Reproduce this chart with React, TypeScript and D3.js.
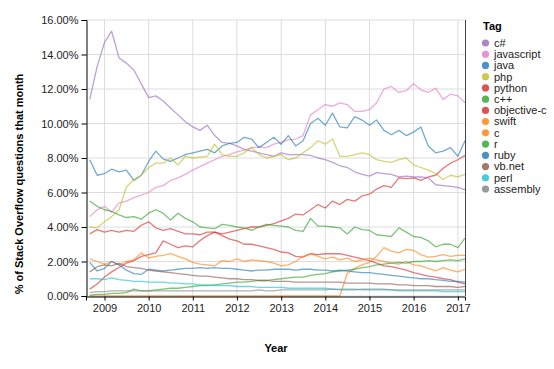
import React, { useEffect, useRef } from "react";
import * as d3 from "d3";

// sampled every two months, Sep 2008 .. Mar 2017
const months = [
  "2008-09", "2008-11",
  "2009-01", "2009-03", "2009-05", "2009-07", "2009-09", "2009-11",
  "2010-01", "2010-03", "2010-05", "2010-07", "2010-09", "2010-11",
  "2011-01", "2011-03", "2011-05", "2011-07", "2011-09", "2011-11",
  "2012-01", "2012-03", "2012-05", "2012-07", "2012-09", "2012-11",
  "2013-01", "2013-03", "2013-05", "2013-07", "2013-09", "2013-11",
  "2014-01", "2014-03", "2014-05", "2014-07", "2014-09", "2014-11",
  "2015-01", "2015-03", "2015-05", "2015-07", "2015-09", "2015-11",
  "2016-01", "2016-03", "2016-05", "2016-07", "2016-09", "2016-11",
  "2017-01", "2017-03"
];

const tags = ["c#", "javascript", "java", "php", "python", "c++", "objective-c", "swift", "c", "r", "ruby", "vb.net", "perl", "assembly"];
const tagColors = ["#9467bd", "#e377c2", "#1f77b4", "#bcbd22", "#d62728", "#2ca02c", "#d62728", "#ff7f0e", "#ff7f0e", "#2ca02c", "#1f77b4", "#8c564b", "#17becf", "#7f7f7f"];

const csharp = [11.4, 13.3, 14.7, 15.35, 13.8, 13.5, 13.1, 12.3,
  11.5, 11.6, 11.3, 10.9, 10.5, 10.1,
  9.8, 9.6, 9.9, 9.3, 8.9, 8.85,
  8.7, 8.5, 8.4, 8.3, 8.2, 8.1,
  8.3, 8.2, 8.2, 8.2, 8.15, 8.0,
  7.9, 7.75, 7.55, 7.45, 7.2, 7.05,
  6.95, 7.15, 7.1, 7.05, 6.9, 6.95,
  6.9, 6.9, 6.85, 6.45, 6.4, 6.35,
  6.3, 6.15];
const javascript = [4.6, 5.0, 5.2, 4.85, 5.4, 5.5, 5.7, 5.85,
  6.0, 6.3, 6.4, 6.7, 6.85, 7.05,
  7.3, 7.5, 7.7, 7.9, 8.1, 8.2,
  8.35, 8.45, 8.6, 8.65, 8.6, 8.8,
  8.9, 9.05, 9.1, 9.3, 10.5, 10.8,
  11.1, 11.0, 11.2, 11.1, 10.7, 10.7,
  10.8, 11.2, 12.0, 12.15, 11.8, 11.9,
  12.3, 11.95, 11.8, 12.05, 11.4, 11.7,
  11.6, 11.2];
const java = [7.9, 7.0, 7.1, 7.35, 7.2, 7.3, 6.7, 7.0,
  7.8, 8.4, 7.95, 7.8, 8.0, 8.2,
  8.3, 8.4, 8.5, 8.3, 8.7, 8.85,
  8.9, 9.2, 9.1, 8.6, 8.9, 9.2,
  8.8, 9.3, 8.7, 9.0, 10.0, 10.3,
  9.9, 10.6, 9.8, 9.75, 10.4, 10.2,
  9.9, 10.2, 9.6, 9.35, 9.6, 9.3,
  9.5, 9.8, 8.7, 8.3, 8.4, 8.6,
  8.1, 9.0];
const php = [4.0, 3.95, 4.3, 4.6, 5.0, 6.3, 6.75, 7.0,
  7.45, 7.7, 7.7, 8.0, 7.6, 8.1,
  8.0, 8.05, 8.1, 8.8, 8.2, 8.1,
  8.1, 8.3, 8.6, 8.2, 8.0, 8.1,
  8.2, 7.9, 8.0, 8.3, 8.6, 9.0,
  8.8, 9.1, 8.1, 8.1, 8.2, 8.3,
  8.2, 7.9, 7.8, 7.75, 7.9, 8.0,
  7.6, 7.45, 7.3, 7.1, 6.75, 7.0,
  6.9, 7.05];
const python = [3.6, 3.85, 3.7, 3.8, 3.7, 3.8, 3.75, 4.1,
  4.3, 3.95, 3.8, 3.9, 3.75, 3.6,
  3.6, 3.55, 3.7, 3.7, 3.6, 3.7,
  3.8, 3.9, 4.0, 4.0, 4.1, 4.2,
  4.35, 4.5, 4.75, 4.7, 5.0, 5.3,
  5.1, 5.5, 5.3, 5.6, 5.5, 5.8,
  5.9, 6.2, 6.4, 6.3, 6.85, 6.8,
  6.85, 6.7, 6.9, 7.0, 7.4, 7.7,
  7.9, 8.15];
const cpp = [5.5, 5.2, 5.0, 4.9, 4.7, 4.55, 4.6, 4.45,
  4.8, 5.0, 4.8, 4.4, 4.8, 4.5,
  4.3, 4.0, 3.95, 3.9, 4.15, 4.1,
  4.0, 3.95, 3.8, 4.0, 4.15, 4.1,
  4.05, 4.0, 3.8, 3.75, 4.5, 4.05,
  4.05, 4.0, 3.95, 3.6, 4.0, 3.85,
  3.8, 3.55, 3.5, 3.45, 3.95, 3.7,
  3.45, 3.4, 3.2, 2.85, 3.0, 3.0,
  2.8, 3.35];
const objectiveC = [0.4, 0.7, 1.1, 1.4, 1.65, 1.9, 2.05, 2.3,
  2.4, 2.5, 3.2, 3.0, 2.8, 2.9,
  2.85, 3.2, 3.5, 3.7, 3.5, 3.3,
  3.2, 3.0, 3.0, 2.9, 2.8, 2.7,
  2.55, 2.5, 2.3, 2.25, 2.45, 2.4,
  2.45, 2.45, 2.45, 2.35, 2.25, 2.15,
  2.05, 1.9, 1.75, 1.7, 1.6, 1.5,
  1.35, 1.25, 1.15, 1.1, 1.0, 0.95,
  0.8, 0.7];
const swift = [0, 0, 0, 0, 0, 0, 0, 0,
  0, 0, 0, 0, 0, 0,
  0, 0, 0, 0, 0, 0,
  0, 0, 0, 0, 0, 0,
  0, 0, 0, 0, 0, 0,
  0, 0, 0, 1.3, 1.6, 1.8,
  1.95, 2.3, 2.8, 2.6, 2.5, 2.7,
  2.65, 2.4, 2.25, 2.3, 2.4, 2.3,
  2.35, 2.35];
const cLang = [2.15, 2.0, 1.85, 2.0, 1.8, 2.0, 2.1, 2.5,
  2.2, 2.3, 2.35, 2.45, 2.3, 2.15,
  1.95, 1.85, 1.8, 1.75, 2.05, 2.0,
  2.15, 2.0, 2.1, 2.05, 2.0, 1.9,
  1.75, 1.8, 2.0, 2.3, 2.45, 2.3,
  2.15, 2.25, 2.1, 2.2, 2.0, 2.1,
  2.2, 2.1, 2.0, 1.9, 1.85, 2.0,
  1.8, 1.75, 1.6, 1.45, 1.65, 1.5,
  1.4, 1.55];
const rLang = [0.05, 0.1, 0.1, 0.15, 0.15, 0.2, 0.4, 0.3,
  0.3, 0.35, 0.4, 0.45, 0.45, 0.5,
  0.55, 0.6, 0.6, 0.65, 0.7, 0.75,
  0.8, 0.8, 0.85, 0.9, 0.9, 0.95,
  1.0, 1.05, 1.1, 1.1, 1.2, 1.25,
  1.3, 1.4, 1.45, 1.5, 1.55, 1.65,
  1.7, 1.8, 1.85, 1.9, 1.95, 1.9,
  2.0, 2.0, 2.05, 2.0, 2.05, 2.1,
  2.05, 2.15];
const ruby = [1.95, 1.45, 1.6, 2.0, 1.8, 1.5, 1.3, 1.25,
  1.55, 1.5, 1.45, 1.5, 1.55, 1.6,
  1.6, 1.65, 1.6, 1.65, 1.6, 1.6,
  1.55, 1.5, 1.45, 1.5, 1.5, 1.55,
  1.55, 1.55, 1.5, 1.55, 1.55, 1.5,
  1.5, 1.45, 1.5, 1.45, 1.4, 1.35,
  1.35, 1.3, 1.25, 1.2, 1.15, 1.1,
  1.05, 1.0, 1.0, 0.95, 0.9, 0.85,
  0.85, 0.8];
const vbnet = [1.4, 1.7, 1.8, 1.75, 1.9, 1.7, 1.65, 1.6,
  1.5, 1.45, 1.4, 1.35, 1.3, 1.25,
  1.2, 1.15, 1.15, 1.1, 1.05, 1.0,
  1.0, 0.95, 0.95, 0.9, 0.9, 0.85,
  0.85, 0.85, 0.8, 0.8, 0.8, 0.8,
  0.8, 0.8, 0.8, 0.75, 0.75, 0.75,
  0.75, 0.7, 0.7, 0.7, 0.65, 0.65,
  0.6, 0.6, 0.6, 0.55, 0.55, 0.55,
  0.5, 0.55];
const perl = [1.0, 1.0, 0.95, 1.05, 0.95, 0.9, 0.85, 0.85,
  0.8, 0.8, 0.8, 0.75, 0.75, 0.7,
  0.7, 0.65, 0.65, 0.6, 0.6, 0.6,
  0.55, 0.55, 0.55, 0.5, 0.5, 0.5,
  0.5, 0.45, 0.45, 0.45, 0.45, 0.45,
  0.45, 0.4, 0.4, 0.4, 0.4, 0.35,
  0.35, 0.35, 0.35, 0.35, 0.3, 0.3,
  0.3, 0.3, 0.3, 0.3, 0.25, 0.25,
  0.25, 0.25];
const assembly = [0.2, 0.25, 0.25, 0.3, 0.3, 0.3, 0.3, 0.3,
  0.3, 0.3, 0.3, 0.3, 0.3, 0.3,
  0.3, 0.3, 0.3, 0.3, 0.3, 0.3,
  0.3, 0.3, 0.3, 0.35, 0.3, 0.3,
  0.35, 0.35, 0.35, 0.35, 0.35, 0.35,
  0.35, 0.4, 0.35, 0.35, 0.35, 0.4,
  0.4, 0.4, 0.4, 0.35, 0.35, 0.35,
  0.35, 0.35, 0.35, 0.35, 0.35, 0.35,
  0.35, 0.35];

const seriesValues = [csharp, javascript, java, php, python, cpp, objectiveC, swift, cLang, rLang, ruby, vbnet, perl, assembly];

const yTicks = [0, 2, 4, 6, 8, 10, 12, 14, 16];
const yearTicks = [2009, 2010, 2011, 2012, 2013, 2014, 2015, 2016, 2017];

const FONT = "'Liberation Sans', Arial, Helvetica, sans-serif";

const App = () => {
  const svgRef = useRef<SVGSVGElement | null>(null);

  useEffect(() => {
    if (!svgRef.current) return;
    const svg = d3.select(svgRef.current);
    svg.selectAll("*").remove();

    const left = 86, right = 465, top = 20, bottom = 296;
    const parse = d3.timeParse("%Y-%m");
    const dates = months.map(m => parse(m) as Date);

    const x = d3.scaleTime()
      .domain([new Date(2008, 7, 1), new Date(2017, 2, 1)])
      .range([left, right]);
    const y = d3.scaleLinear().domain([0, 16]).range([bottom, top]);

    svg.append("rect").attr("width", 554).attr("height", 369).attr("fill", "white");

    // grid
    svg.append("g").selectAll("line").data(yTicks).enter().append("line")
      .attr("x1", left).attr("x2", right)
      .attr("y1", d => y(d)).attr("y2", d => y(d))
      .attr("stroke", "#dddddd").attr("stroke-width", 1);
    svg.append("g").selectAll("line").data(yearTicks).enter().append("line")
      .attr("x1", d => x(new Date(d, 0, 1))).attr("x2", d => x(new Date(d, 0, 1)))
      .attr("y1", top).attr("y2", bottom)
      .attr("stroke", "#dddddd").attr("stroke-width", 1);

    // lines
    const line = d3.line<number>()
      .x((_, i) => x(dates[i]))
      .y(d => y(d));

    svg.append("g").selectAll("path").data(seriesValues).enter().append("path")
      .attr("d", d => line(d))
      .attr("fill", "none")
      .attr("stroke", (_, i) => tagColors[i])
      .attr("stroke-width", 1.3)
      .attr("stroke-opacity", 0.62)
      .attr("stroke-linejoin", "round");

    // frame on the right
    svg.append("line").attr("x1", right + 0.5).attr("x2", right + 0.5).attr("y1", top).attr("y2", bottom)
      .attr("stroke", "#444").attr("stroke-width", 1);

    // y axis
    const yAxis = svg.append("g").attr("transform", `translate(${left + 0.5},0)`)
      .call(d3.axisLeft(y).tickValues(yTicks).tickSize(5).tickFormat(d => d3.format(".2f")(d as number) + "%"));
    yAxis.select(".domain").attr("stroke", "#000");
    yAxis.selectAll(".tick line").attr("stroke", "#000");
    yAxis.selectAll("text").attr("font-family", FONT).attr("font-size", 11).attr("fill", "#222").attr("x", -8);

    // x axis
    const xAxis = svg.append("g").attr("transform", `translate(0,${bottom + 0.5})`)
      .call(d3.axisBottom(x).tickValues(yearTicks.map(t => new Date(t, 0, 1))).tickSize(4).tickFormat(d3.timeFormat("%Y") as any));
    xAxis.select(".domain").attr("stroke", "#000");
    xAxis.selectAll(".tick line").attr("stroke", "#000");
    xAxis.selectAll("text").attr("font-family", FONT).attr("font-size", 11).attr("fill", "#222").attr("y", 8);

    // titles
    svg.append("text")
      .attr("transform", "translate(23,184) rotate(-90)")
      .attr("text-anchor", "middle")
      .attr("font-family", FONT).attr("font-size", 11).attr("font-weight", "bold")
      .text("% of Stack Overflow questions that month");
    svg.append("text")
      .attr("x", 276).attr("y", 352)
      .attr("text-anchor", "middle")
      .attr("font-family", FONT).attr("font-size", 11).attr("font-weight", "bold")
      .text("Year");

    // legend
    const legend = svg.append("g").attr("transform", "translate(481,0)");
    legend.append("text").attr("x", 2).attr("y", 30)
      .attr("font-family", FONT).attr("font-size", 11).attr("font-weight", "bold")
      .text("Tag");
    const items = legend.selectAll(".item").data(tags).enter().append("g")
      .attr("class", "item")
      .attr("transform", (_, i) => `translate(0,${43 + i * 11.23})`);
    items.append("circle").attr("cx", 4.5).attr("cy", 0).attr("r", 3.6)
      .attr("fill", (_, i) => tagColors[i]).attr("fill-opacity", 0.8);
    items.append("text").attr("x", 13).attr("y", 3.8)
      .attr("font-family", FONT).attr("font-size", 11).attr("fill", "#222")
      .text(d => d);
  }, []);

  return (
    <svg ref={svgRef} width={554} height={369} viewBox="0 0 554 369"
      style={{ position: "absolute", left: 0, top: 0, display: "block" }} />
  );
};

export default App;
